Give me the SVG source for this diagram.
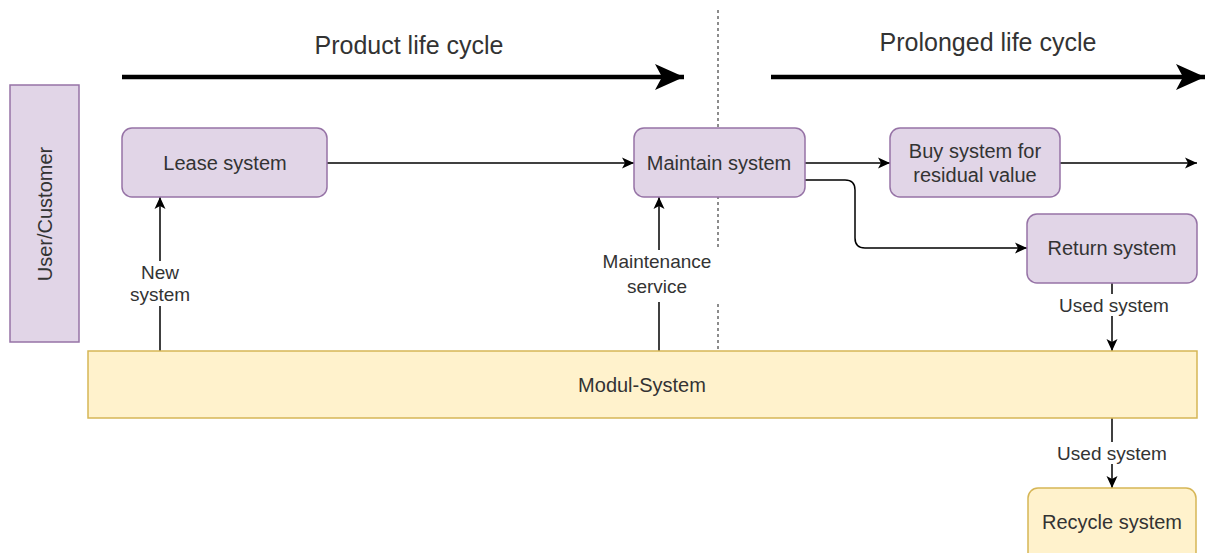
<svg xmlns="http://www.w3.org/2000/svg" width="1205" height="553" viewBox="0 0 1205 553">
  <style>
    .lbl { font-family: "Liberation Sans", Arial, sans-serif; fill: #333333; text-anchor: middle; dominant-baseline: central; }
    .node { font-size: 20px; }
    .edge { font-size: 19px; }
    .title { font-size: 25px; }
    .purple { fill: #e1d5e7; stroke: #9673a6; stroke-width: 1.5; }
    .yellow { fill: #fff2cc; stroke: #d6b656; stroke-width: 1.5; }
    .conn { fill: none; stroke: #000000; stroke-width: 1.5; }
    .thick { fill: none; stroke: #000000; stroke-width: 4.5; }
  </style>
  <defs>
    <marker id="arrow" markerUnits="userSpaceOnUse" markerWidth="14" markerHeight="14" viewBox="0 0 14 14" refX="13" refY="7" orient="auto">
      <path d="M1,1.5 L13,7 L1,12.5 L4,7 z" fill="#000000"/>
    </marker>
    <marker id="bigArrow" markerUnits="userSpaceOnUse" markerWidth="30" markerHeight="28" viewBox="0 0 30 28" refX="29" refY="14" orient="auto">
      <path d="M0,1 L29,14 L0,27 L7,14 z" fill="#000000"/>
    </marker>
  </defs>

  <!-- phase divider -->
  <line x1="718" y1="10" x2="718" y2="350" stroke="#8c8c8c" stroke-width="2" stroke-dasharray="3 3"/>

  <!-- phase headings -->
  <g id="phase-product">
    <text class="lbl title" x="409" y="45">Product life cycle</text>
    <line class="thick" x1="122" y1="77" x2="684" y2="77" marker-end="url(#bigArrow)"/>
  </g>
  <g id="phase-prolonged">
    <text class="lbl title" x="988" y="42">Prolonged life cycle</text>
    <line class="thick" x1="771" y1="77" x2="1205" y2="77" marker-end="url(#bigArrow)"/>
  </g>

  <!-- connectors -->
  <g id="connectors">
    <line class="conn" x1="327" y1="163" x2="634" y2="163" marker-end="url(#arrow)"/>
    <line class="conn" x1="805" y1="163" x2="890" y2="163" marker-end="url(#arrow)"/>
    <line class="conn" x1="1060" y1="163" x2="1197" y2="163" marker-end="url(#arrow)"/>
    <path class="conn" d="M805,180 L845,180 Q855,180 855,190 L855,238 Q855,248 865,248 L1027,248" marker-end="url(#arrow)"/>
    <line class="conn" x1="160" y1="351" x2="160" y2="197" marker-end="url(#arrow)"/>
    <line class="conn" x1="659" y1="351" x2="659" y2="197" marker-end="url(#arrow)"/>
    <line class="conn" x1="1112" y1="283" x2="1112" y2="351" marker-end="url(#arrow)"/>
    <line class="conn" x1="1112" y1="418" x2="1112" y2="488" marker-end="url(#arrow)"/>

    <!-- connector labels -->
    <rect x="130" y="261" width="60" height="45" fill="#ffffff"/>
    <text class="lbl edge" x="160" y="272">New</text>
    <text class="lbl edge" x="160" y="294">system</text>
    <rect x="596" y="250" width="126" height="52" fill="#ffffff"/>
    <text class="lbl edge" x="657" y="261">Maintenance</text>
    <text class="lbl edge" x="657" y="286">service</text>
    <rect x="1054" y="294" width="118" height="22" fill="#ffffff"/>
    <text class="lbl edge" x="1114" y="305">Used system</text>
    <rect x="1052" y="442" width="120" height="22" fill="#ffffff"/>
    <text class="lbl edge" x="1112" y="453">Used system</text>
  </g>

  <g id="user-customer">
    <rect class="purple" x="10" y="85" width="69" height="257"/>
    <text class="lbl node" x="45" y="214" transform="rotate(-90 45 214)">User/Customer</text>
  </g>

  <g id="lease-system">
    <rect class="purple" x="122" y="128" width="205" height="69" rx="10"/>
    <text class="lbl node" x="225" y="163">Lease system</text>
  </g>

  <g id="maintain-system">
    <rect class="purple" x="634" y="128" width="171" height="69" rx="10"/>
    <text class="lbl node" x="719" y="163">Maintain system</text>
  </g>

  <g id="buy-system">
    <rect class="purple" x="890" y="128" width="170" height="69" rx="10"/>
    <text class="lbl node" x="975" y="151">Buy system for</text>
    <text class="lbl node" x="975" y="175">residual value</text>
  </g>

  <g id="return-system">
    <rect class="purple" x="1027" y="214" width="170" height="69" rx="10"/>
    <text class="lbl node" x="1112" y="248">Return system</text>
  </g>

  <g id="modul-system">
    <rect class="yellow" x="88" y="351" width="1109" height="67"/>
    <text class="lbl node" x="642" y="385">Modul-System</text>
  </g>

  <g id="recycle-system">
    <rect class="yellow" x="1028" y="488" width="168" height="80" rx="10"/>
    <text class="lbl node" x="1112" y="522">Recycle system</text>
  </g>
</svg>
